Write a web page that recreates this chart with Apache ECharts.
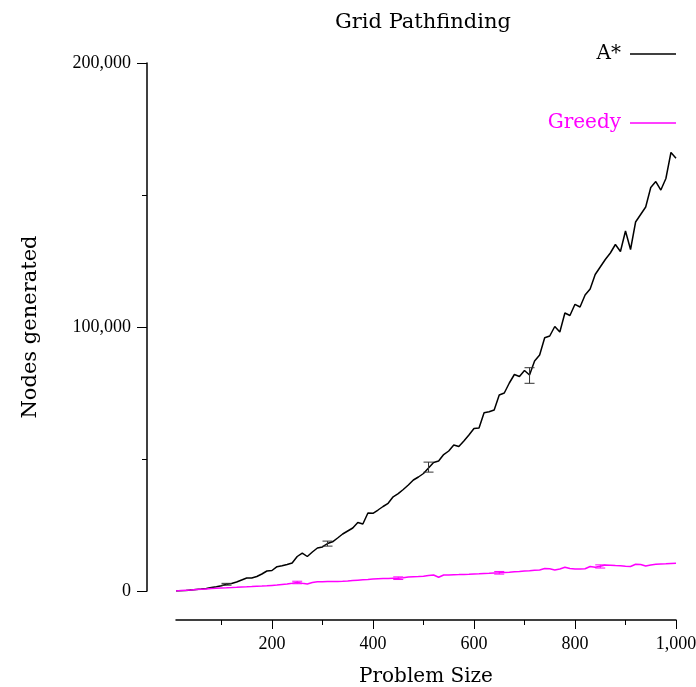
<!DOCTYPE html>
<html>
<head>
<meta charset="utf-8">
<script src="https://cdn.jsdelivr.net/npm/echarts@6/dist/echarts.min.js"></script>
<style>
  html, body { margin: 0; padding: 0; background: #fff; }
  #chart { width: 696px; height: 687px; }
</style>
</head>
<body>
<div id="chart"></div>
<script>
// Problem sizes (x values)
const problemSize = [
  10, 20, 30, 40, 50, 60, 70, 80, 90, 100,
  110, 120, 130, 140, 150, 160, 170, 180, 190, 200,
  210, 220, 230, 240, 250, 260, 270, 280, 290, 300,
  310, 320, 330, 340, 350, 360, 370, 380, 390, 400,
  410, 420, 430, 440, 450, 460, 470, 480, 490, 500,
  510, 520, 530, 540, 550, 560, 570, 580, 590, 600,
  610, 620, 630, 640, 650, 660, 670, 680, 690, 700,
  710, 720, 730, 740, 750, 760, 770, 780, 790, 800,
  810, 820, 830, 840, 850, 860, 870, 880, 890, 900,
  910, 920, 930, 940, 950, 960, 970, 980, 990, 1000
];

// Nodes generated by A*
const aStarNodes = [
  0, 80, 190, 380, 570, 760, 985, 1290, 1590, 2010,
  2540, 2840, 3410, 4170, 4920, 4920, 5490, 6440, 7580, 7770,
  9200, 9550, 10040, 10610, 13070, 14390, 13070, 14770, 16290, 16670,
  17990, 18640, 20080, 21590, 22730, 23860, 25950, 25380, 29550, 29430,
  30680, 32010, 33220, 35680, 36860, 38450, 40150, 42050, 43180, 44510,
  46590, 48670, 49240, 51700, 53030, 55300, 54740, 56820, 59090, 61550,
  61740, 67540, 67880, 68560, 74240, 75000, 78790, 82010, 81250, 83520,
  81820, 87120, 89390, 95950, 96590, 100190, 98110, 105300, 104360, 108600,
  107580, 112120, 114390, 119890, 122730, 125570, 128030, 131250, 128600, 136360,
  129360, 139770, 142610, 145450, 152840, 155110, 151890, 156250, 166100, 163900
];

// Nodes generated by Greedy
const greedyNodes = [
  0, 150, 270, 380, 530, 680, 800, 910, 1020, 1140,
  1210, 1290, 1400, 1520, 1590, 1700, 1820, 1890, 1970, 2120,
  2270, 2460, 2650, 2920, 3220, 2920, 2650, 3220, 3480, 3520,
  3560, 3600, 3640, 3670, 3790, 3940, 4090, 4240, 4390, 4550,
  4660, 4730, 4730, 4810, 4850, 5040, 5300, 5420, 5490, 5610,
  5870, 6060, 5190, 6060, 6060, 6140, 6210, 6290, 6360, 6440,
  6520, 6630, 6700, 6820, 6890, 7010, 7120, 7270, 7390, 7580,
  7690, 7840, 7950, 8520, 8410, 7950, 8330, 8980, 8520, 8330,
  8330, 8410, 9280, 8980, 9390, 9850, 9740, 9620, 9550, 9390,
  9280, 10110, 10040, 9470, 9850, 10110, 10230, 10300, 10420, 10490
];

// Error bars: [problem size, low, high]
const aStarErrors = [
  [110, 2200, 2900],
  [310, 17000, 18900],
  [510, 45030, 48820],
  [710, 78670, 84580]
];
const greedyErrors = [
  [250, 2750, 3700],
  [450, 4350, 5350],
  [650, 6400, 7400],
  [850, 8700, 9900]
];

// Axis ticks
const xTickLabels = [200, 400, 600, 800, 1000];
const xMinorTicks = [100, 300, 500, 700, 900];

const wordFont = 'DejaVu Serif';
const numFont = 'Liberation Serif';
const fmt = v => Number(v).toLocaleString('en-US');

function pairs(xs, ys) {
  return xs.map((x, i) => [x, ys[i]]);
}

function errorBarRenderer(color) {
  return function (params, api) {
    const x = api.value(0);
    const lo = api.coord([x, api.value(1)]);
    const hi = api.coord([x, api.value(2)]);
    const half = 5;
    const style = { stroke: color, lineWidth: 1, fill: null };
    return {
      type: 'group',
      children: [
        { type: 'line', shape: { x1: lo[0], y1: lo[1], x2: hi[0], y2: hi[1] }, style: style },
        { type: 'line', shape: { x1: lo[0] - half, y1: lo[1], x2: lo[0] + half, y2: lo[1] }, style: style },
        { type: 'line', shape: { x1: hi[0] - half, y1: hi[1], x2: hi[0] + half, y2: hi[1] }, style: style }
      ]
    };
  };
}

const chart = echarts.init(document.getElementById('chart'), null, { renderer: 'canvas' });

chart.setOption({
  animation: false,
  backgroundColor: '#fff',
  title: {
    text: 'Grid Pathfinding',
    left: 335,
    top: 12,
    padding: 0,
    textStyle: { fontFamily: wordFont, fontSize: 21, fontWeight: 'normal', color: '#000' }
  },
  legend: {
    orient: 'vertical',
    right: 20,
    top: 42,
    padding: 0,
    align: 'right',
    icon: 'rect',
    itemWidth: 46,
    itemHeight: 1.5,
    itemGap: 45,
    selectedMode: false,
    textStyle: { fontFamily: wordFont, fontSize: 20, lineHeight: 24, padding: [0, 4, 0, 0] },
    data: [
      { name: 'A*', textStyle: { color: '#000' } },
      { name: 'Greedy', textStyle: { color: '#ff00ff' } }
    ]
  },
  grid: { left: 176, right: 20, top: 63, bottom: 96, outerBoundsMode: 'none' },
  xAxis: [
    {
      type: 'value',
      min: 10,
      max: 1000,
      offset: 29,
      position: 'bottom',
      axisLine: { onZero: false, lineStyle: { color: '#000', width: 1.5 } },
      axisTick: { customValues: xTickLabels, length: 9, lineStyle: { color: '#000', width: 1 } },
      axisLabel: { customValues: xTickLabels, formatter: fmt, fontFamily: numFont, fontSize: 18, color: '#000', margin: 15 },
      splitLine: { show: false },
      name: 'Problem Size',
      nameLocation: 'middle',
      nameGap: 47,
      nameTextStyle: { fontFamily: wordFont, fontSize: 20, color: '#000' }
    },
    {
      type: 'value',
      min: 10,
      max: 1000,
      offset: 29,
      position: 'bottom',
      axisLine: { show: false, onZero: false },
      axisTick: { customValues: xMinorTicks, length: 5, lineStyle: { color: '#000', width: 1 } },
      axisLabel: { show: false },
      splitLine: { show: false }
    }
  ],
  yAxis: {
    type: 'value',
    min: 0,
    max: 200000,
    interval: 100000,
    offset: 29,
    axisLine: { show: true, onZero: false, lineStyle: { color: '#000', width: 1.5 } },
    axisTick: { show: true, length: 10, lineStyle: { color: '#000', width: 1 } },
    minorTick: { show: true, splitNumber: 2, length: 5, lineStyle: { color: '#000', width: 1 } },
    axisLabel: { formatter: fmt, fontFamily: numFont, fontSize: 18, color: '#000', margin: 16 },
    splitLine: { show: false },
    minorSplitLine: { show: false },
    name: 'Nodes generated',
    nameLocation: 'middle',
    nameGap: 106,
    nameTextStyle: { fontFamily: wordFont, fontSize: 21, color: '#000' }
  },
  series: [
    {
      name: 'A*',
      type: 'line',
      data: pairs(problemSize, aStarNodes),
      symbol: 'none',
      color: '#000',
      lineStyle: { color: '#000', width: 1.5 },
      z: 3
    },
    {
      name: 'Greedy',
      type: 'line',
      data: pairs(problemSize, greedyNodes),
      symbol: 'none',
      color: '#ff00ff',
      lineStyle: { color: '#ff00ff', width: 1.5 },
      z: 3
    },
    {
      name: 'A* error',
      type: 'custom',
      data: aStarErrors,
      renderItem: errorBarRenderer('#333'),
      z: 4
    },
    {
      name: 'Greedy error',
      type: 'custom',
      data: greedyErrors,
      renderItem: errorBarRenderer('#ff00ff'),
      z: 4
    }
  ]
});
</script>
</body>
</html>
